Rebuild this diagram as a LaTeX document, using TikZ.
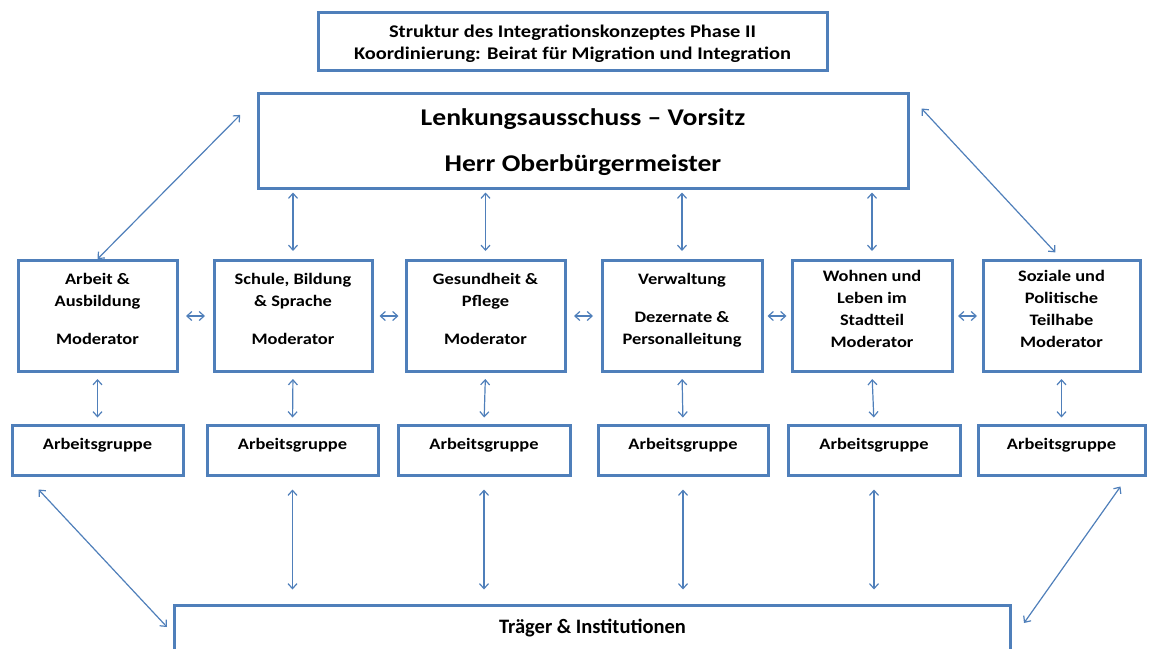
\documentclass[tikz,border=0pt]{standalone}
\usepackage{fontspec}
\setmainfont{Carlito}[FakeStretch=1.15]
\newfontfamily\narrowfont{Carlito}
\usetikzlibrary{arrows.meta}
\definecolor{boxblue}{HTML}{4F7FBA}

\begin{document}
\begin{tikzpicture}[x=1pt,y=-1pt,
    kasten/.style={draw=boxblue,line width=3pt,fill=white,align=center,inner sep=0pt,
      font=\bfseries\fontsize{16}{22}\selectfont},
    bereich/.style={kasten,minimum height=111pt,text depth=14pt},
    gruppe/.style={kasten,minimum height=50pt,text depth=13pt,font=\bfseries\fontsize{16}{18}\selectfont},
    pfeil/.style={draw=boxblue,line width=1.2pt,
      {Straight Barb[length=5pt,width=9pt]}-{Straight Barb[length=5pt,width=9pt]}}]
  \useasboundingbox (0,0) rectangle (1150,648);

  \node[kasten,minimum width=509pt,minimum height=58pt,text height=40pt,text depth=4pt,
    font=\bfseries\fontsize{17.8}{22}\selectfont]
    (titel) at (572.5,41) {Struktur des Integrationskonzeptes Phase II\\Koordinierung: Beirat für Migration und Integration};
  \node[kasten,minimum width=650pt,minimum height=95pt,text height=67pt,text depth=5pt,
    font=\bfseries\fontsize{24}{28}\selectfont]
    (lenk) at (583,140.5) {Lenkungsausschuss – Vorsitz\\[18pt]Herr Oberbürgermeister};

  \node[bereich,minimum width=159pt] (m1) at (97.5,316)
    {Arbeit \&\\Ausbildung\\[16pt]Moderator};
  \node[bereich,minimum width=158pt] (m2) at (293,316)
    {Schule, Bildung\\\& Sprache\\[16pt]Moderator};
  \node[bereich,minimum width=159pt] (m3) at (485.5,316)
    {Gesundheit \&\\Pflege\\[16pt]Moderator};
  \node[bereich,minimum width=160pt] (m4) at (682,316)
    {Verwaltung\\[16pt]Dezernate \&\\Personalleitung};
  \node[bereich,minimum width=160pt] (m5) at (872,316)
    {Wohnen und\\Leben im\\Stadtteil\\Moderator};
  \node[bereich,minimum width=157pt] (m6) at (1061.5,316)
    {Soziale und\\Politische\\Teilhabe\\Moderator};

  \node[gruppe,minimum width=171pt] (a1) at (97.5,450) {Arbeitsgruppe};
  \node[gruppe,minimum width=171pt] (a2) at (292.5,450) {Arbeitsgruppe};
  \node[gruppe,minimum width=172pt] (a3) at (484,450) {Arbeitsgruppe};
  \node[gruppe,minimum width=170pt] (a4) at (683,450) {Arbeitsgruppe};
  \node[gruppe,minimum width=172pt] (a5) at (874,450) {Arbeitsgruppe};
  \node[gruppe,minimum width=167pt] (a6) at (1061.5,450) {Arbeitsgruppe};

  \node[kasten,minimum width=836pt,minimum height=46pt,font=\narrowfont\bfseries\fontsize{20.5}{22}\selectfont]
    (traeger) at (592.5,628) {Träger \& Institutionen};

  \path[pfeil,shorten <=9pt] ([shift={(-10,-32)}]lenk.west) -- (m1.north);
  \path[pfeil,shorten >=9pt] ([shift={(12,-32)}]lenk.east) -- (m6.north);

  \path[pfeil,shorten <=8pt,shorten >=3pt] (m2.north) -- (m2.north |- lenk.south);
  \path[pfeil,shorten <=8pt,shorten >=3pt] (m3.north) -- (m3.north |- lenk.south);
  \path[pfeil,shorten <=8pt,shorten >=3pt] (m4.north) -- (m4.north |- lenk.south);
  \path[pfeil,shorten <=8pt,shorten >=3pt] (m5.north) -- (m5.north |- lenk.south);

  \path[pfeil,shorten <=7.5pt,shorten >=7.5pt] (m1.east) -- (m2.west);
  \path[pfeil,shorten <=6pt,shorten >=6pt] (m2.east) -- (m3.west);
  \path[pfeil,shorten <=7.5pt,shorten >=7.5pt] (m3.east) -- (m4.west);
  \path[pfeil,shorten <=4pt,shorten >=4pt] (m4.east) -- (m5.west);
  \path[pfeil,shorten <=4.5pt,shorten >=4.5pt] (m5.east) -- (m6.west);

  \path[pfeil,shorten <=6pt,shorten >=6pt] (m1.south) -- (a1.north);
  \path[pfeil,shorten <=6pt,shorten >=6pt] (m2.south) -- (a2.north);
  \path[pfeil,shorten <=6pt,shorten >=6pt] (m3.south) -- (a3.north);
  \path[pfeil,shorten <=6pt,shorten >=6pt] (m4.south) -- (a4.north);
  \path[pfeil,shorten <=6pt,shorten >=6pt] (m5.south) -- (a5.north);
  \path[pfeil,shorten <=6pt,shorten >=6pt] (m6.south) -- (a6.north);

  \path[pfeil,shorten <=13pt,shorten >=14pt] (a2.south) -- (a2.south |- traeger.north);
  \path[pfeil,shorten <=13pt,shorten >=14pt] (a3.south) -- (a3.south |- traeger.north);
  \path[pfeil,shorten <=13pt,shorten >=14pt] (a4.south) -- (a4.south |- traeger.north);
  \path[pfeil,shorten <=13pt,shorten >=14pt] (a5.south) -- (a5.south |- traeger.north);

  \path[pfeil] ([shift={(28,13)}]a1.south west) -- ([shift={(-6,-1)}]traeger.west);
  \path[pfeil] ([shift={(-26,10)}]a6.south east) -- ([shift={(12,-5)}]traeger.east);
\end{tikzpicture}
\end{document}
